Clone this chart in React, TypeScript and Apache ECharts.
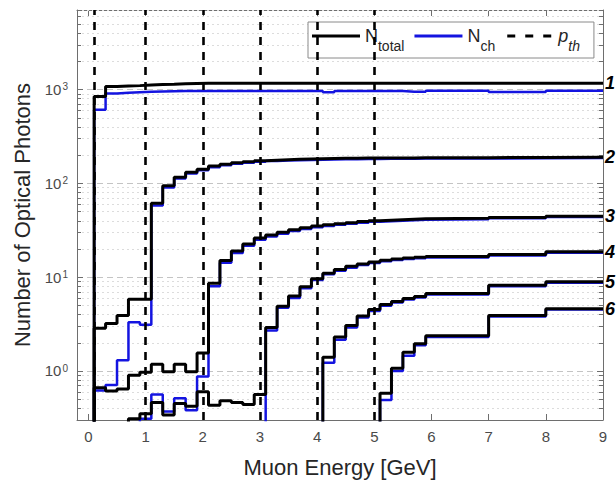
import React, { useEffect, useRef } from "react";
import * as echarts from "echarts";

// Energy axis range [GeV]
const X_MIN = -0.2;
const X_MAX = 9;
// Photon-count axis range (log)
const Y_MIN = 0.3;
const Y_MAX = 7000;
// Empty bins are drawn at this level, below the visible axis range
const EMPTY_LEVEL = 0.01;

// Left edges of the energy bins, followed by the right edge of the last bin
const energyEdges = [
  0.1, 0.3, 0.5, 0.7, 0.9, 1.1, 1.3, 1.5, 1.7, 1.9, 2.1, 2.3, 2.5, 2.7, 2.9,
  3.1, 3.3, 3.5, 3.7, 3.9, 4.1, 4.3, 4.5, 4.7, 4.9, 5.1, 5.3, 5.5, 5.7, 5.9,
  7, 8, 9,
];

// Total number of optical photons per bin, curves 1..6 (0 = no photons)
const total1 = [840, 1070, 1085, 1095, 1110, 1125, 1135, 1150, 1155, 1160, 1160, 1160, 1160, 1160, 1160, 1160, 1160, 1160, 1160, 1160, 1160, 1160, 1160, 1160, 1160, 1160, 1160, 1160, 1160, 1160, 1160, 1160];
const total2 = [2.85, 3.2, 3.9, 5.8, 5.8, 61, 94, 116, 131, 141, 152, 159, 165, 169, 173, 176, 178, 180, 181, 182, 183, 184, 184, 185, 185, 186, 186, 186, 187, 187, 188, 189];
const total3 = [0.66, 0.61, 0.64, 0.9, 0.97, 1.18, 0.98, 1.18, 0.98, 1.55, 8.6, 15, 19, 22.5, 26, 28, 30, 32, 33.5, 35, 36, 37, 38, 39, 39.8, 40.3, 40.8, 41.3, 41.7, 42.2, 43.2, 44.5];
const total4 = [0, 0, 0, 0.31, 0.35, 0.46, 0.34, 0.45, 0.42, 0.6, 0.43, 0.48, 0.46, 0.44, 0.56, 2.9, 4.9, 6.3, 7.9, 9.6, 11, 12, 13, 13.8, 14.5, 15.1, 15.6, 16, 16.3, 16.6, 17.4, 18.6];
const total5 = [0, 0, 0, 0, 0, 0, 0, 0, 0, 0, 0, 0, 0, 0, 0, 0, 0, 0, 0, 0, 1.4, 2.3, 3.05, 3.85, 4.5, 5.1, 5.5, 5.9, 6.2, 6.7, 8.2, 8.9];
const total6 = [0, 0, 0, 0, 0, 0, 0, 0, 0, 0, 0, 0, 0, 0, 0, 0, 0, 0, 0, 0, 0, 0, 0, 0, 0, 0.58, 1.07, 1.58, 1.95, 2.37, 3.9, 4.6];

// Cherenkov photons per bin, curves 1..6
const cherenkov1 = [605, 905, 920, 930, 940, 950, 955, 960, 960, 960, 960, 960, 960, 960, 960, 960, 960, 960, 960, 960, 930, 960, 960, 960, 960, 960, 960, 945, 945, 965, 935, 965];
const cherenkov2 = [0.62, 0.71, 1.3, 3.3, 3.1, 58, 90, 112, 127, 137, 148, 155, 161, 165, 169, 172, 174, 176, 177, 178, 179, 180, 180, 181, 181, 182, 182, 182, 183, 183, 184, 185];
const cherenkov3 = [0, 0, 0, 0, 0.31, 0.56, 0.37, 0.51, 0.38, 0.87, 8.0, 14.2, 18, 21.5, 25, 27, 29, 31, 32.5, 34, 35, 36, 37, 38, 38.8, 39.3, 39.8, 40.3, 40.7, 41.2, 42.2, 43.5];
const cherenkov4 = [0, 0, 0, 0, 0, 0, 0, 0, 0, 0, 0, 0, 0, 0, 0, 2.7, 4.7, 6.0, 7.6, 9.3, 10.7, 11.7, 12.6, 13.4, 14.1, 14.7, 15.2, 15.6, 15.9, 16.2, 17.0, 18.2];
const cherenkov5 = [0, 0, 0, 0, 0, 0, 0, 0, 0, 0, 0, 0, 0, 0, 0, 0, 0, 0, 0, 0, 1.22, 2.15, 2.9, 3.7, 4.35, 4.95, 5.35, 5.75, 6.05, 6.5, 8.0, 8.7];
const cherenkov6 = [0, 0, 0, 0, 0, 0, 0, 0, 0, 0, 0, 0, 0, 0, 0, 0, 0, 0, 0, 0, 0, 0, 0, 0, 0, 0.49, 1.0, 1.45, 1.88, 2.3, 3.8, 4.5];

const totalCurves = [total1, total2, total3, total4, total5, total6];
const cherenkovCurves = [cherenkov1, cherenkov2, cherenkov3, cherenkov4, cherenkov5, cherenkov6];
const curveLabels = ["1", "2", "3", "4", "5", "6"];

// Momentum thresholds p_th [GeV]
const thresholds = [0.1, 1, 2, 3, 4, 5];

// Axis tick values
const energyTicks = [0, 1, 2, 3, 4, 5, 6, 7, 8, 9];
const minorLogValues = [
  0.4, 0.5, 0.6, 0.7, 0.8, 0.9,
  2, 3, 4, 5, 6, 7, 8, 9,
  20, 30, 40, 50, 60, 70, 80, 90,
  200, 300, 400, 500, 600, 700, 800, 900,
  2000, 3000, 4000, 5000, 6000, 7000,
];

const FONT = "'Liberation Sans', Arial, Helvetica, sans-serif";
const BLACK = "#000000";
const BLUE = "#1414e0";
const AXIS_GRAY = "#6e6e6e";
const TEXT_DARK = "#262626";
const TICK_TEXT = "#4a4a4a";

// Legend keys: solid bars and a dashed bar, 48 x 3 px
const SOLID_KEY = "path://M0,0h48v3h-48z";
const DASHED_KEY = "path://M2,0h8v3h-8z M20,0h8v3h-8z M38,0h8v3h-8z M0,0h0.01v3h-0.01z M48,0h0.01v3h-0.01z";

// Histogram as a staircase: one point per bin edge, starting from the floor
function stairs(values: number[]): number[][] {
  const pts: number[][] = [[X_MIN, EMPTY_LEVEL]];
  values.forEach((v, i) => pts.push([energyEdges[i], v > 0 ? v : EMPTY_LEVEL]));
  const last = values[values.length - 1];
  pts.push([energyEdges[values.length], last > 0 ? last : EMPTY_LEVEL]);
  return pts;
}

export default function App() {
  const ref = useRef<HTMLDivElement>(null);

  useEffect(() => {
    if (!ref.current) return;
    const chart = echarts.init(ref.current, null, { renderer: "svg" });

    const cherenkovSeries = cherenkovCurves.map((vals) => ({
      name: "Nch",
      type: "line",
      step: "end",
      data: stairs(vals),
      symbol: "none",
      showSymbol: false,
      xAxisIndex: 0,
      yAxisIndex: 0,
      z: 3,
      lineStyle: { color: BLUE, width: 2.5 },
      itemStyle: { color: BLUE },
    }));

    const totalSeries = totalCurves.map((vals, k) => ({
      name: "Ntotal",
      type: "line",
      step: "end",
      data: stairs(vals),
      symbol: "none",
      showSymbol: false,
      xAxisIndex: 0,
      yAxisIndex: 0,
      z: 4,
      lineStyle: { color: BLACK, width: 3 },
      itemStyle: { color: BLACK },
      endLabel: {
        show: true,
        formatter: () => curveLabels[k],
        color: BLACK,
        fontFamily: FONT,
        fontSize: 18,
        fontWeight: "bold",
        fontStyle: "italic",
        distance: 2,
      },
    }));

    const thresholdSeries = {
      name: "pth",
      type: "line",
      data: [],
      symbol: "none",
      xAxisIndex: 0,
      yAxisIndex: 0,
      z: 2,
      lineStyle: { color: BLACK, width: 2.5, type: [8, 7] },
      itemStyle: { color: BLACK },
      markLine: {
        silent: true,
        symbol: ["none", "none"],
        label: { show: false },
        lineStyle: { color: BLACK, width: 2.6, type: [8, 7] },
        data: thresholds.map((t) => ({ xAxis: t })),
      },
    };

    // Minor log grid lines with short inward ticks on both frame sides
    const minorGridSeries = {
      type: "custom",
      xAxisIndex: 0,
      yAxisIndex: 0,
      z: 1,
      silent: true,
      data: minorLogValues.map((v) => [X_MIN, v]),
      encode: { x: 0, y: 1 },
      renderItem: (_params: any, api: any) => {
        const v = api.value(1);
        const l = api.coord([X_MIN, v]);
        const r = api.coord([X_MAX, v]);
        const y = Math.round(l[1]) + 0.5;
        return {
          type: "group",
          children: [
            {
              type: "line",
              shape: { x1: l[0], y1: y, x2: r[0], y2: y },
              style: { stroke: "#dcdcdc", lineWidth: 1, lineDash: [2, 3] },
            },
            {
              type: "line",
              shape: { x1: l[0], y1: y, x2: l[0] + 4, y2: y },
              style: { stroke: AXIS_GRAY, lineWidth: 1 },
            },
            {
              type: "line",
              shape: { x1: r[0] - 4, y1: y, x2: r[0], y2: y },
              style: { stroke: AXIS_GRAY, lineWidth: 1 },
            },
          ],
        };
      },
    };

    const legendNames: Record<string, string> = {
      Ntotal: "{n|N}{sub|total}",
      Nch: "{n|N}{sub|ch}",
      pth: "{ni|p}{subi|th}",
    };

    const frameLine = { show: true, onZero: false, lineStyle: { color: AXIS_GRAY, width: 1 } };

    const logAxisBase = {
      type: "log",
      logBase: 10,
      min: Y_MIN,
      max: Y_MAX,
      axisLine: frameLine,
      axisTick: { show: true, inside: true, length: 6, lineStyle: { color: AXIS_GRAY } },
    };

    const option = {
      animation: false,
      backgroundColor: "#ffffff",
      grid: { left: 77, top: 10, right: 13, bottom: 58, containLabel: false },
      legend: {
        left: 308,
        top: 22,
        orient: "horizontal",
        data: [
          { name: "Ntotal", icon: SOLID_KEY, itemStyle: { color: BLACK } },
          { name: "Nch", icon: SOLID_KEY, itemStyle: { color: BLUE } },
          { name: "pth", icon: DASHED_KEY, itemStyle: { color: BLACK } },
        ],
        itemWidth: 48,
        itemHeight: 3,
        itemGap: 10,
        padding: [5, 14, 5, 4],
        backgroundColor: "#ffffff",
        borderColor: "#8a8a8a",
        borderWidth: 1,
        borderRadius: 0,
        selectedMode: false,
        formatter: (name: string) => legendNames[name] || name,
        textStyle: {
          color: TEXT_DARK,
          fontFamily: FONT,
          fontSize: 18,
          rich: {
            n: { fontSize: 18, lineHeight: 18, verticalAlign: "top", fontFamily: FONT, color: TEXT_DARK },
            ni: { fontSize: 18, lineHeight: 18, verticalAlign: "top", fontStyle: "italic", fontFamily: FONT, color: TEXT_DARK },
            sub: { fontSize: 14, lineHeight: 14, verticalAlign: "top", padding: [12, 0, 0, 0], fontFamily: FONT, color: TEXT_DARK },
            subi: { fontSize: 14, lineHeight: 14, verticalAlign: "top", padding: [12, 0, 0, 0], fontStyle: "italic", fontFamily: FONT, color: TEXT_DARK },
          },
        },
      },
      xAxis: [
        {
          type: "value",
          position: "bottom",
          min: X_MIN,
          max: X_MAX,
          name: "Muon Energy [GeV]",
          nameLocation: "middle",
          nameGap: 36,
          nameTextStyle: { color: TEXT_DARK, fontFamily: FONT, fontSize: 22 },
          axisLine: frameLine,
          axisTick: { show: true, inside: true, length: 6, customValues: energyTicks, lineStyle: { color: AXIS_GRAY } },
          axisLabel: { show: true, customValues: energyTicks, margin: 9, color: TICK_TEXT, fontFamily: FONT, fontSize: 15 },
          splitLine: { show: false },
        },
        {
          type: "value",
          position: "top",
          min: X_MIN,
          max: X_MAX,
          axisLine: frameLine,
          axisTick: { show: true, inside: true, length: 6, customValues: energyTicks, lineStyle: { color: AXIS_GRAY } },
          axisLabel: { show: false },
          splitLine: { show: false },
        },
      ],
      yAxis: [
        {
          ...logAxisBase,
          position: "left",
          name: "Number of Optical Photons",
          nameLocation: "middle",
          nameGap: 26,
          nameTextStyle: { color: TEXT_DARK, fontFamily: FONT, fontSize: 22 },
          axisLabel: {
            show: true,
            margin: 9,
            color: TICK_TEXT,
            fontFamily: FONT,
            fontSize: 15,
            formatter: (v: number) => {
              const e = Math.log10(v);
              const k = Math.round(e);
              if (Math.abs(e - k) > 1e-6) return "";
              return `{b|10}{sup|${k}}`;
            },
            rich: {
              b: { fontSize: 15, lineHeight: 15, verticalAlign: "bottom", color: TICK_TEXT, fontFamily: FONT },
              sup: { fontSize: 10, lineHeight: 10, verticalAlign: "top", padding: [0, 0, 6, 1], color: TICK_TEXT, fontFamily: FONT },
            },
          },
          splitLine: { show: true, lineStyle: { color: "#c4c4c4", width: 1, type: [6, 4] } },
        },
        {
          ...logAxisBase,
          position: "right",
          axisLabel: { show: false },
          splitLine: { show: false },
        },
      ],
      series: [minorGridSeries, thresholdSeries, ...cherenkovSeries, ...totalSeries],
    };

    chart.setOption(option as any);
    return () => chart.dispose();
  }, []);

  return (
    <div
      ref={ref}
      style={{ position: "absolute", left: 0, top: 0, width: 616, height: 483, background: "#fff" }}
    />
  );
}
